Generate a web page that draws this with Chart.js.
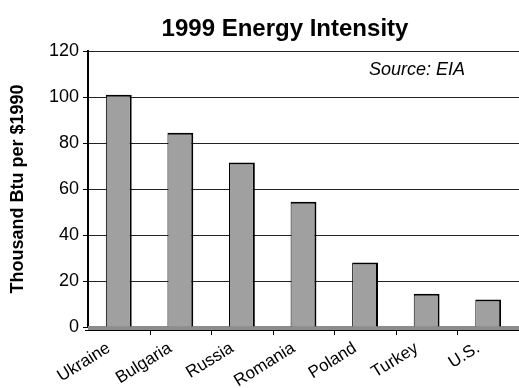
<!DOCTYPE html>
<html>
<head>
<meta charset="utf-8">
<script src="https://cdn.jsdelivr.net/npm/chart.js@4/dist/chart.umd.min.js"></script>
<style>
  html, body { margin: 0; padding: 0; background: #fff; }
</style>
</head>
<body>
<canvas id="chart" width="519" height="388"></canvas>
<script>
const countries = ["Ukraine", "Bulgaria", "Russia", "Romania", "Poland", "Turkey", "U.S."];
const intensity = [101, 84.5, 71.5, 54.5, 28, 14.5, 12];
const yTicks = [0, 20, 40, 60, 80, 100, 120];

const FONT = "Arial, 'Liberation Sans', sans-serif";

// title, source note and the grey floor under the bars
const decor = {
  id: 'decor',
  beforeDatasetsDraw(chart) {
    const { ctx, chartArea: a } = chart;
    ctx.save();
    ctx.fillStyle = '#8c8c8c';
    ctx.fillRect(a.left, a.bottom - 1, a.right - a.left, 4);
    ctx.fillStyle = '#000';
    ctx.fillRect(a.left, a.bottom + 3, a.right - a.left, 1);
    ctx.restore();
  },
  afterDraw(chart) {
    const { ctx, chartArea: a, scales } = chart;
    ctx.save();
    ctx.fillStyle = '#000';
    ctx.textBaseline = 'middle';
    ctx.textAlign = 'center';
    ctx.font = 'bold 24px ' + FONT;
    ctx.fillText('1999 Energy Intensity', 285, 29);
    ctx.font = 'italic 18px ' + FONT;
    ctx.textAlign = 'left';
    ctx.fillText('Source: EIA', 369, 70);
    // x tick marks between categories, below the floor
    const x = scales.x;
    for (let i = 1; i < countries.length; i++) {
      const px = Math.round((x.getPixelForValue(i - 1) + x.getPixelForValue(i)) / 2);
      ctx.fillRect(px, a.bottom + 3, 1, 5);
    }
    ctx.fillRect(a.left - 3, a.bottom + 3, 5, 1);
    ctx.restore();
  }
};

new Chart(document.getElementById('chart'), {
  type: 'bar',
  data: {
    labels: countries,
    datasets: [{
      data: intensity,
      backgroundColor: '#a0a0a0',
      borderColor: '#000',
      borderWidth: { left: 1, right: 2, top: 2, bottom: 0 },
      borderSkipped: false,
      categoryPercentage: 1,
      barPercentage: 0.42
    }]
  },
  options: {
    responsive: false,
    animation: false,
    layout: { padding: { top: 51, right: 0, left: 0, bottom: 0 } },
    plugins: { legend: { display: false }, title: { display: false }, tooltip: { enabled: false } },
    scales: {
      x: {
        grid: { display: false },
        border: { display: false },
        afterFit(s) { s.height = 61; },
        ticks: {
          color: '#000',
          font: { family: FONT, size: 17 },
          maxRotation: 32,
          minRotation: 32,
          labelOffset: -10,
          padding: 3
        }
      },
      y: {
        min: 0,
        max: 120,
        afterFit(s) { s.width = 88; },
        afterBuildTicks(s) { s.ticks = yTicks.map(v => ({ value: v })); },
        grid: { color: '#222', lineWidth: 1, tickLength: 5, tickColor: '#000' },
        border: { display: true, color: '#000', width: 2 },
        title: {
          display: true,
          text: 'Thousand Btu per $1990',
          color: '#000',
          font: { family: FONT, size: 18, weight: 'bold' },
          padding: { top: 7, bottom: 0 }
        },
        ticks: {
          color: '#000',
          font: { family: FONT, size: 18 },
          padding: 4
        }
      }
    }
  },
  plugins: [decor]
});
</script>
</body>
</html>
